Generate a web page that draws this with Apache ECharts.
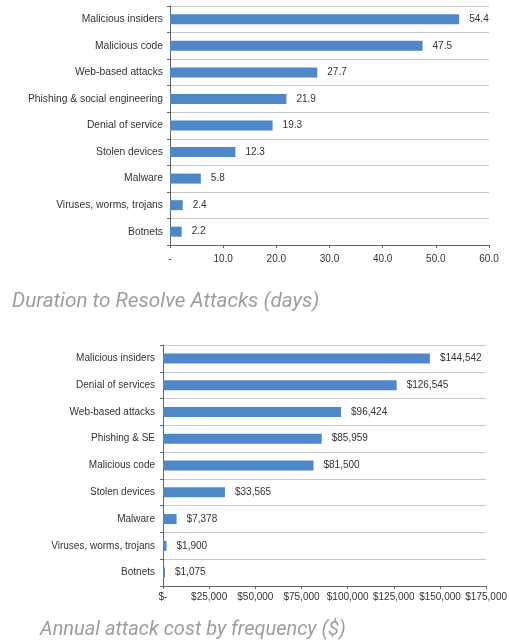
<!DOCTYPE html>
<html>
<head>
<meta charset="utf-8">
<script src="https://cdn.jsdelivr.net/npm/echarts@6/dist/echarts.min.js"></script>
<style>html,body{margin:0;padding:0;background:#fff;}#c{width:510px;height:641px;}</style>
</head>
<body>
<div id="c"></div>
<script>
var durCategories = ['Malicious insiders','Malicious code','Web-based attacks','Phishing & social engineering','Denial of service','Stolen devices','Malware','Viruses, worms, trojans','Botnets'];
var durValues = [54.4, 47.5, 27.7, 21.9, 19.3, 12.3, 5.8, 2.4, 2.2];
var durTicks = {min: 0, max: 60, interval: 10};

var costCategories = ['Malicious insiders','Denial of services','Web-based attacks','Phishing & SE','Malicious code','Stolen devices','Malware','Viruses, worms, trojans','Botnets'];
var costValues = [144542, 126545, 96424, 85959, 81500, 33565, 7378, 1900, 1075];
var costTicks = {min: 0, max: 175000, interval: 25000};

var titles = ['Duration to Resolve Attacks (days)', 'Annual attack cost by frequency ($)'];

var barColor = '#4f88c9';
var gridColor = '#c8c8c8';
var axisColor = '#666';
var txt = '#333';
var ff = 'Liberation Sans, Arial, sans-serif';

function money(v){ return v === 0 ? '$-' : '$' + v.toLocaleString('en-US'); }

function titleStyle(size){ return {fontFamily: 'Roboto', fontStyle: 'italic', fontWeight: 'normal', fontSize: size, color: '#9e9e9e'}; }

var chart = echarts.init(document.getElementById('c'), null, {renderer: 'canvas'});
chart.setOption({
  animation: false,
  backgroundColor: '#fff',
  title: [
    {text: titles[0], left: 7, top: 286, textStyle: titleStyle(20.7)},
    {text: titles[1], left: 35, top: 615, textStyle: titleStyle(20)}
  ],
  grid: [
    {left: 170, right: 21, top: 6, bottom: 396},
    {left: 163, right: 22, top: 345, bottom: 55}
  ],
  xAxis: [
    {type: 'value', gridIndex: 0, min: durTicks.min, max: durTicks.max, interval: durTicks.interval,
     axisLine: {show: true, lineStyle: {color: axisColor}}, axisTick: {show: true, length: 3, lineStyle: {color: axisColor}},
     splitLine: {show: false},
     axisLabel: {fontFamily: ff, fontSize: 10, color: txt, margin: 9, formatter: function(v){ return v === 0 ? '-' : v.toFixed(1); }}},
    {type: 'value', gridIndex: 1, min: costTicks.min, max: costTicks.max, interval: costTicks.interval,
     axisLine: {show: true, lineStyle: {color: axisColor}}, axisTick: {show: true, length: 3, lineStyle: {color: axisColor}},
     splitLine: {show: false},
     axisLabel: {fontFamily: ff, fontSize: 10, color: txt, margin: 6, formatter: money}}
  ],
  yAxis: [
    {type: 'category', gridIndex: 0, data: durCategories, inverse: true,
     axisLine: {show: true, lineStyle: {color: axisColor}}, axisTick: {show: true, length: 3, lineStyle: {color: axisColor}},
     splitLine: {show: true, lineStyle: {color: gridColor}},
     axisLabel: {fontFamily: ff, fontSize: 10.3, color: txt, margin: 7}},
    {type: 'category', gridIndex: 1, data: costCategories, inverse: true,
     axisLine: {show: true, lineStyle: {color: axisColor}}, axisTick: {show: true, length: 3, lineStyle: {color: axisColor}},
     splitLine: {show: true, lineStyle: {color: gridColor}},
     axisLabel: {fontFamily: ff, fontSize: 10, color: txt, margin: 8}}
  ],
  series: [
    {type: 'bar', xAxisIndex: 0, yAxisIndex: 0, data: durValues, barWidth: 10,
     itemStyle: {color: barColor},
     label: {show: true, position: 'right', distance: 10, fontFamily: ff, fontSize: 10, color: txt, formatter: function(p){ return p.value.toFixed(1); }}},
    {type: 'bar', xAxisIndex: 1, yAxisIndex: 1, data: costValues, barWidth: 10,
     itemStyle: {color: barColor},
     label: {show: true, position: 'right', distance: 10, fontFamily: ff, fontSize: 10, color: txt, formatter: function(p){ return money(p.value); }}}
  ]
});
</script>
</body>
</html>
